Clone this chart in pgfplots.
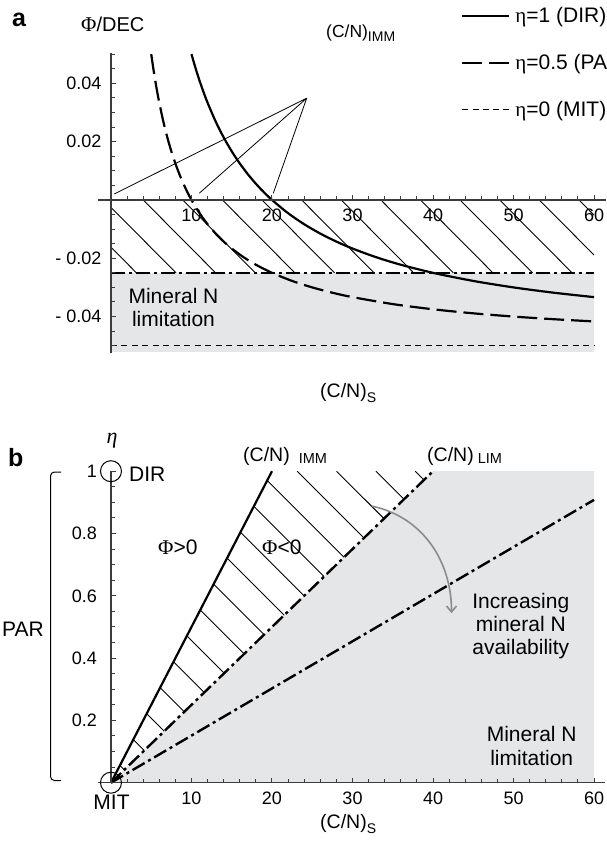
\documentclass[border=0pt]{standalone}
\usepackage{pgfplots}
\pgfplotsset{compat=1.18}
\usepackage{fontspec}
\setmainfont{Liberation Sans}
\newfontfamily\serifgr{Liberation Serif}
\usetikzlibrary{arrows.meta}
\definecolor{axgray}{RGB}{60,60,60}
\definecolor{fillgray}{RGB}{229,230,232}
\definecolor{arrowgray}{RGB}{140,140,140}
\tikzset{txt/.style={inner sep=0pt, font=\fontsize{21}{23}\selectfont}}
\begin{document}
\begin{tikzpicture}
\useasboundingbox (0pt,0pt) rectangle (606pt,-843pt);
% ---------------- panel a ----------------
\begin{axis}[
  at={(98.1pt,-353.3pt)}, anchor=south west, scale only axis,
  width=508pt, height=300pt,
  xmin=-1.6, xmax=61.5, ymin=-0.0526, ymax=0.0503,
  scaled y ticks=false, scaled x ticks=false,
  axis x line=middle, axis y line=middle,
  axis line style={-, line width=1.3pt, axgray},
  axis on top,
  xtick={10,20,30,40,50,60}, xticklabels={10,20,30,40,50,60},
  minor xtick={2,4,6,8,12,14,16,18,22,24,26,28,32,34,36,38,42,44,46,48,52,54,56,58},
  ytick={-0.04,-0.02,0.02,0.04}, yticklabels={- 0.04,- 0.02,0.02,0.04},
  minor ytick={-0.05,-0.045,-0.035,-0.03,-0.025,-0.015,-0.01,-0.005,0.005,0.01,0.015,0.025,0.03,0.035,0.045,0.05},
  tick align=inside, major tick length=5pt, minor tick length=4pt,
  tick style={line width=1pt, axgray},
  ticklabel style={font=\fontsize{18}{18}\selectfont, text=black},
  xticklabel style={anchor=north, inner sep=0pt, yshift=-8.5pt},
  yticklabel style={anchor=east, inner sep=0pt, xshift=-9.3pt},
  legend style={draw=none, fill=none, at={(0.7144,1.1563)}, anchor=north west,
    font=\fontsize{21}{21}\selectfont, row sep=28pt, inner sep=0pt,
    column sep=4pt, nodes={inner sep=1pt}},
  legend cell align=left,
  legend image code/.code={\draw[#1] (0pt,0pt) -- (47pt,0pt);},
]
\addplot[fill=fillgray, draw=none, forget plot] coordinates {(0,-0.025) (60,-0.025) (60,-0.052) (0,-0.052)} -- cycle;
\addplot[black, line width=0.9pt, unbounded coords=jump, forget plot] coordinates {
 (0,-0.01622) (3.16,-0.025) (0,nan)
 (0,-0.002556) (8.08,-0.025) (0,nan)
 (4.0,0) (13.0,-0.025) (0,nan)
 (8.92,0) (17.92,-0.025) (0,nan)
 (13.84,0) (22.84,-0.025) (0,nan)
 (18.76,0) (27.76,-0.025) (0,nan)
 (23.68,0) (32.68,-0.025) (0,nan)
 (28.6,0) (37.6,-0.025) (0,nan)
 (33.52,0) (42.52,-0.025) (0,nan)
 (38.44,0) (47.44,-0.025) (0,nan)
 (43.36,0) (52.36,-0.025) (0,nan)
 (48.28,0) (57.28,-0.025) (0,nan)
 (53.2,0) (60,-0.01889) (0,nan)
 (58.12,0) (60,-0.005222)};
\addplot[black, line width=0.8pt, unbounded coords=jump, forget plot] coordinates {
 (24.31,0.0349) (0.41,0.00206) (0,nan)
 (24.31,0.0349) (10.97,0.0023) (0,nan)
 (24.31,0.0349) (20.16,0.0023)};
\addplot[black, line width=1.3pt, dash pattern=on 6pt off 4.5pt, forget plot] coordinates {(0,-0.05) (60,-0.05)};
\addplot[black, line width=2.4pt, dash pattern=on 14pt off 4pt on 3pt off 4pt, forget plot] coordinates {(0,-0.025) (60,-0.025)};
\addplot[black, line width=2.2pt, smooth, forget plot] coordinates {
 (10,0.05) (10.5,0.045238) (11,0.040909) (11.5,0.036957) (12,0.033333) (13,0.026923)
 (14,0.021429) (15,0.016667) (16,0.0125) (17,0.008824) (18,0.005556) (19,0.002632)
 (20,0) (22,-0.004545) (24,-0.008333) (26,-0.011538) (28,-0.014286) (30,-0.016667)
 (33,-0.019697) (36,-0.022222) (40,-0.025) (45,-0.027778) (50,-0.03) (55,-0.031818) (60,-0.033333)};
\addplot[black, line width=2.2pt, smooth, dash pattern=on 20pt off 7pt, forget plot] coordinates {
 (5,0.05) (5.25,0.045238) (5.5,0.040909) (5.75,0.036957) (6,0.033333) (6.5,0.026923)
 (7,0.021429) (7.5,0.016667) (8,0.0125) (8.5,0.008824) (9,0.005556) (9.5,0.002632)
 (10,0) (11,-0.004545) (12,-0.008333) (13,-0.011538) (14,-0.014286) (15,-0.016667)
 (16.5,-0.019697) (18,-0.022222) (20,-0.025) (22.5,-0.027778) (25,-0.03) (27.5,-0.031818)
 (30,-0.033333) (35,-0.035714) (40,-0.0375) (45,-0.038889) (50,-0.04) (55,-0.040909) (60,-0.041667)};
\addlegendimage{black, line width=2.2pt}
\addlegendentry{{\serifgr η}=1 (DIR)}
\addlegendimage{black, line width=2.2pt, dash pattern=on 20pt off 7pt}
\addlegendentry{{\serifgr η}=0.5 (PAR)}
\addlegendimage{black, line width=1.5pt, dash pattern=on 6pt off 4.25pt}
\addlegendentry{{\serifgr η}=0 (MIT)}
\end{axis}
% ---------------- panel b ----------------
\begin{axis}[
  at={(98.1pt,-782.7pt)}, anchor=south west, scale only axis,
  width=507.2pt, height=311.5pt,
  xmin=-1.6, xmax=61.4, ymin=0, ymax=1,
  scaled y ticks=false, scaled x ticks=false,
  axis x line=middle, axis y line=middle,
  axis line style={-, line width=1.3pt, axgray},
  axis on top, clip=false,
  xtick={10,20,30,40,50,60}, xticklabels={10,20,30,40,50,60},
  minor xtick={2,4,6,8,12,14,16,18,22,24,26,28,32,34,36,38,42,44,46,48,52,54,56,58},
  ytick={0.2,0.4,0.6,0.8,1}, yticklabels={0.2,0.4,0.6,0.8,1},
  minor ytick={0.05,0.1,0.15,0.25,0.3,0.35,0.45,0.5,0.55,0.65,0.7,0.75,0.85,0.9,0.95},
  tick align=inside, major tick length=5pt, minor tick length=4pt,
  tick style={line width=1pt, axgray},
  ticklabel style={font=\fontsize{18}{18}\selectfont, text=black},
  xticklabel style={anchor=north, inner sep=0pt, yshift=-9.5pt},
  yticklabel style={anchor=east, inner sep=0pt, xshift=-14pt},
]
\addplot[fill=fillgray, draw=none] coordinates {(0,0) (40,1) (60,1) (60,0)} -- cycle;
\addplot[black, line width=0.9pt, unbounded coords=jump] coordinates {
 (37.79,1) (38.88,0.9719) (0,nan)
 (32.91,1) (36.39,0.9099) (0,nan)
 (28.02,1) (33.91,0.8478) (0,nan)
 (23.14,1) (31.43,0.7858) (0,nan)
 (19.41,0.9704) (28.95,0.7238) (0,nan)
 (17.74,0.8872) (26.47,0.6617) (0,nan)
 (16.08,0.8040) (23.99,0.5997) (0,nan)
 (14.42,0.7208) (21.51,0.5377) (0,nan)
 (12.75,0.6377) (19.02,0.4756) (0,nan)
 (11.09,0.5545) (16.54,0.4136) (0,nan)
 (9.43,0.4713) (14.06,0.3515) (0,nan)
 (7.76,0.3881) (11.58,0.2895) (0,nan)
 (6.10,0.3050) (9.10,0.2275) (0,nan)
 (4.44,0.2218) (6.62,0.1654) (0,nan)
 (2.77,0.1386) (4.14,0.1034) (0,nan)
 (1.11,0.0554) (1.65,0.0414)};
\addplot[black, line width=2.2pt] coordinates {(0,0) (20,1)};
\addplot[black, line width=2.4pt, dash pattern=on 14pt off 4pt on 3pt off 4pt] coordinates {(0,0) (40,1)};
\addplot[black, line width=2.4pt, dash pattern=on 14pt off 4pt on 3pt off 4pt] coordinates {(0,0) (60,0.908)};
\addplot[only marks, mark=o, mark size=10.5pt, mark options={black, line width=1pt, fill=none}] coordinates {(0,1) (0,0)};
\draw[arrowgray, line width=1.6pt, -{Straight Barb[length=6pt, width=10pt]}]
  (axis cs:32.4,0.888) to[out=-12, in=90] (axis cs:42.3,0.544);
\end{axis}
% ---------------- texts ----------------
\node[anchor=base west, inner sep=0pt, font=\bfseries\fontsize{25}{25}\selectfont] at (12pt,-26.7pt) {a};
\node[anchor=base west, inner sep=0pt, font=\fontsize{20}{20}\selectfont] at (81pt,-31.7pt) {{\serifgr\fontsize{21}{21}\selectfont Φ}/DEC};
\node[anchor=base west, inner sep=0pt, font=\fontsize{17.5}{17.5}\selectfont] at (326pt,-37.5pt) {(C/N)\raisebox{-4pt}{\fontsize{14}{14}\selectfont IMM}};
\node[anchor=base west, inner sep=0pt, font=\fontsize{19.5}{19.5}\selectfont] at (320pt,-397pt) {(C/N)\raisebox{-5pt}{\fontsize{14}{14}\selectfont S}};
\node[txt, anchor=base] at (173.5pt,-303.3pt) {Mineral N};
\node[txt, anchor=base] at (173.5pt,-326.7pt) {limitation};
\node[anchor=base west, inner sep=0pt, font=\bfseries\fontsize{25}{25}\selectfont] at (8pt,-466.7pt) {b};
\node[anchor=base, inner sep=0pt, font=\fontsize{22}{22}\selectfont] at (112pt,-443pt) {{\serifgr\itshape η}};
\node[txt, anchor=base west] at (129pt,-481pt) {DIR};
\node[txt, anchor=base] at (111.5pt,-809.3pt) {MIT};
\node[txt, anchor=base] at (23pt,-636pt) {PAR};
\draw[line width=1pt, rounded corners=4pt] (61pt,-472pt) -- (50.5pt,-472pt) -- (50.5pt,-780.5pt) -- (61pt,-780.5pt);
\node[txt, anchor=base west] at (158pt,-554pt) {{\serifgr Φ}>0};
\node[txt, anchor=base west] at (262pt,-554pt) {{\serifgr Φ}<0};
\node[anchor=base west, inner sep=0pt, font=\fontsize{19.5}{19.5}\selectfont] at (243pt,-461.7pt) {(C/N)\hspace{9pt}\raisebox{-2pt}{\fontsize{14.5}{14.5}\selectfont IMM}};
\node[anchor=base west, inner sep=0pt, font=\fontsize{19.5}{19.5}\selectfont] at (427pt,-461.7pt) {(C/N)\hspace{4pt}\raisebox{-2pt}{\fontsize{14.5}{14.5}\selectfont LIM}};
\node[txt, anchor=base] at (520.8pt,-608.3pt) {Increasing};
\node[txt, anchor=base] at (520.8pt,-631.5pt) {mineral N};
\node[txt, anchor=base] at (520.8pt,-654.8pt) {availability};
\node[txt, anchor=base] at (531.7pt,-741.7pt) {Mineral N};
\node[txt, anchor=base] at (531.7pt,-765pt) {limitation};
\node[anchor=base west, inner sep=0pt, font=\fontsize{19.5}{19.5}\selectfont] at (320pt,-828.3pt) {(C/N)\raisebox{-5pt}{\fontsize{14}{14}\selectfont S}};
\end{tikzpicture}
\end{document}
